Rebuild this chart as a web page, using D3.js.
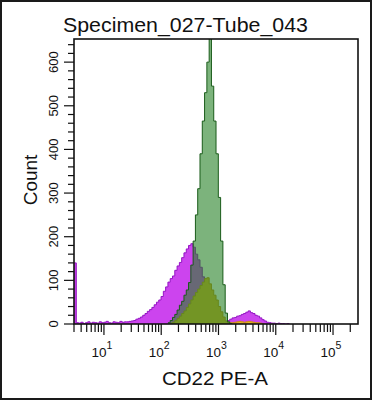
<!DOCTYPE html>
<html><head><meta charset="utf-8">
<script src="https://cdn.jsdelivr.net/npm/d3@7"></script>
<style>body{margin:0;background:#fff}svg{display:block}text{font-family:"Liberation Sans",Arial,sans-serif;fill:#111}</style>
</head><body><script>
const titleText = "Specimen_027-Tube_043";
const xTitle = "CD22 PE-A";
const yTitle = "Count";
const yTickValues = [0,100,200,300,400,500,600];
const yMinorStep = 20;
const xDecadeLabels = [1,2,3,4,5];
const xDomain = [3, 262144];
const yMax = 653;
// histogram bins (log10 fluorescence)
const binLogStart = 0.4771, binLogStep = 0.04, binCount = 124;
// Magenta series
const magentaStart = 0;
const magentaCounts = [140,3,2,4,1,3,5,2,4,3,2,5,3,4,6,3,2,5,4,3,6,4,5,5,6,7,8,11,13,16,20,24,29,33,38,44,50,55,63,75,85,96,104,110,123,133,141,152,163,172,180,184,176,160,147,130,108,85,62,43,30,20,13,9,7,6,6,8,11,14,15,18,19,22,24,27,30,26,24,20,18,14,10,7,4,3,2,2,1,2,1,1,0,1];
// Yellow series
const yellowStart = 42;
const yellowCounts = [2,4,8,13,18,24,30,38,46,55,64,72,80,88,96,104,106,92,78,66,55,40,28,16,7,4,3,3,4,5,6,5,4,5,6,5,4,3,3,2,1];
// Green series
const greenStart = 41;
const greenCounts = [3,8,15,22,32,43,52,66,78,95,135,190,250,310,390,465,530,600,690,545,465,390,290,190,90,25,5,1];

const W=372,H=400;
const L=74,R=358,T=39,B=324;
const svg=d3.select("body").append("svg").attr("width",W).attr("height",H);
svg.append("rect").attr("x",1).attr("y",1).attr("width",W-2).attr("height",H-2).attr("fill","#fff").attr("stroke","#1a1a1a").attr("stroke-width",2);

const x=d3.scaleLog().domain(xDomain).range([L,R-1]);
const y=d3.scaleLinear().domain([0,yMax]).range([B,T]);

svg.append("clipPath").attr("id","clip").append("rect").attr("x",L).attr("y",T).attr("width",R-L).attr("height",B-T);
const edges=d3.range(binCount+1).map(i=>Math.pow(10,binLogStart+i*binLogStep));

function stepPoints(start,counts){
  const pts=[];
  counts.forEach((c,j)=>{const i=start+j;pts.push([edges[i],c]);pts.push([edges[i+1],c]);});
  return pts;
}
const area=d3.area().x(d=>x(d[0])).y0(y(0)).y1(d=>y(d[1]));
const line=d3.line().x(d=>x(d[0])).y(d=>y(d[1]));
const g=svg.append("g").attr("clip-path","url(#clip)");
const series=[
  {start:magentaStart,counts:magentaCounts,fill:"#cc44ee",op:1,stroke:"#9414c4"},
  {start:yellowStart,counts:yellowCounts,fill:"#e8b526",op:1,stroke:"#c89010"},
  {start:greenStart,counts:greenCounts,fill:"#258025",op:0.6,stroke:"#1a5c1a"}
];
series.forEach(s=>{
  const pts=stepPoints(s.start,s.counts);
  g.append("path").attr("d",area(pts)).attr("fill",s.fill).attr("fill-opacity",s.op);
  g.append("path").attr("d",line(pts)).attr("fill","none").attr("stroke",s.stroke).attr("stroke-width",1);
});

// frame
svg.append("rect").attr("x",L).attr("y",T).attr("width",R-L).attr("height",B-T).attr("fill","none").attr("stroke","#111").attr("stroke-width",1.6);

// x ticks
const xt=svg.append("g");
for(let d=0;d<=5;d++){for(let k=1;k<=9;k++){const v=k*Math.pow(10,d);if(v<xDomain[0]||v>xDomain[1])continue;
  const px=x(v);xt.append("line").attr("x1",px).attr("x2",px).attr("y1",B).attr("y2",B+(k===1?11:8)).attr("stroke","#111").attr("stroke-width",1.2);}}
xDecadeLabels.forEach(e=>{
  const px=x(Math.pow(10,e));
  const t=xt.append("text").attr("x",px-2).attr("y",357).attr("text-anchor","middle").attr("font-size",13.5);
  t.append("tspan").text("10");
  t.append("tspan").attr("dy",-8).attr("font-size",10.5).text(e);
});
// y ticks
const yt=svg.append("g");
d3.range(0,yMax,yMinorStep).forEach(v=>{const major=v%100===0;
  yt.append("line").attr("x1",L).attr("x2",L-(major?10:6)).attr("y1",y(v)).attr("y2",y(v)).attr("stroke","#111").attr("stroke-width",1.2);});
yTickValues.forEach(v=>{
  yt.append("text").attr("transform",`translate(58,${y(v)}) rotate(-90)`).attr("text-anchor","middle").attr("font-size",13).text(v);
});
// titles
svg.append("text").attr("x",185.5).attr("y",32).attr("text-anchor","middle").attr("font-size",19.5).attr("textLength",245).attr("lengthAdjust","spacingAndGlyphs").text(titleText);
svg.append("text").attr("x",215).attr("y",385).attr("text-anchor","middle").attr("font-size",18).attr("textLength",106).attr("lengthAdjust","spacingAndGlyphs").text(xTitle);
svg.append("text").attr("transform","translate(37,180) rotate(-90)").attr("text-anchor","middle").attr("font-size",19).text(yTitle);
</script></body></html>
